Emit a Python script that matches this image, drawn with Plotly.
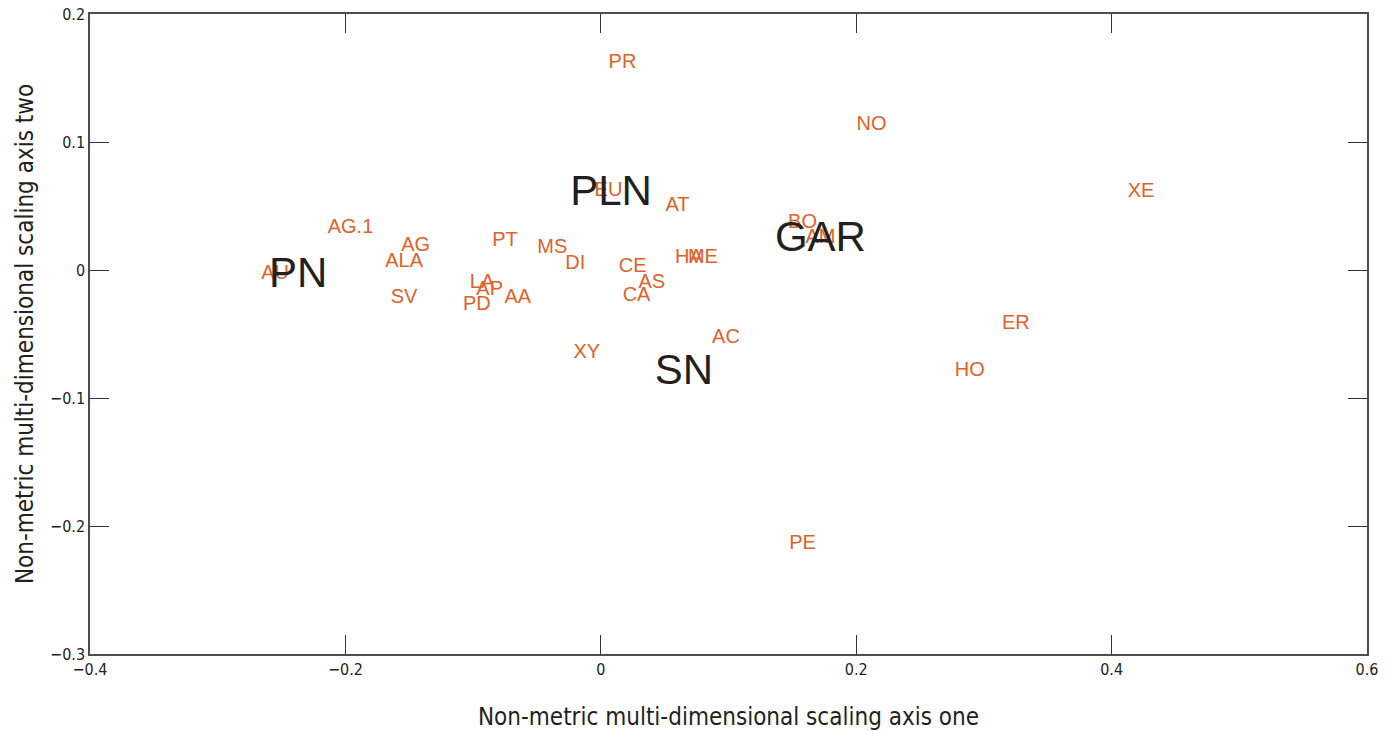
import plotly.graph_objects as go

# NMDS site/species scores
species = ["PR", "NO", "XE", "EU", "AT", "BO", "AM", "AG.1", "AG", "PT", "MS", "DI",
           "ALA", "AU", "CE", "HA", "ME", "AS", "CA", "LA", "AP", "PD", "AA", "SV",
           "XY", "AC", "ER", "HO", "PE"]
species_x = [0.017, 0.212, 0.423, 0.006, 0.060, 0.158, 0.172, -0.196, -0.145, -0.075,
             -0.038, -0.020, -0.154, -0.255, 0.025, 0.069, 0.080, 0.040, 0.028, -0.093,
             -0.087, -0.097, -0.065, -0.154, -0.011, 0.098, 0.325, 0.289, 0.158]
species_y = [0.162, 0.113, 0.061, 0.062, 0.050, 0.037, 0.025, 0.033, 0.019, 0.023,
             0.017, 0.005, 0.006, -0.003, 0.002, 0.009, 0.009, -0.010, -0.020, -0.010,
             -0.016, -0.027, -0.022, -0.022, -0.065, -0.053, -0.042, -0.079, -0.214]

groups = ["PN", "PLN", "GAR", "SN"]
group_x = [-0.237, 0.008, 0.172, 0.065]
group_y = [-0.005, 0.059, 0.023, -0.081]

x_ticks = [-0.4, -0.2, 0, 0.2, 0.4, 0.6]
y_ticks = [-0.3, -0.2, -0.1, 0, 0.1, 0.2]

ORANGE = "#DE6229"
DARK = "#231F20"
COND = "Liberation Sans Narrow, DejaVu Sans Condensed, Arial Narrow, sans-serif"

fig = go.Figure()
fig.add_trace(go.Scatter(
    x=species_x, y=species_y, text=species, mode="text",
    textposition="middle center", cliponaxis=False,
    textfont=dict(family="Liberation Sans, Arial, sans-serif", size=20, color=ORANGE),
    showlegend=False, hoverinfo="skip"))
fig.add_trace(go.Scatter(
    x=group_x, y=group_y, text=groups, mode="text",
    textposition="middle center", cliponaxis=False,
    textfont=dict(family="Liberation Sans, Arial, sans-serif", size=42, color=DARK),
    showlegend=False, hoverinfo="skip"))

axis_common = dict(
    showline=True, linecolor="#4D4D4D", linewidth=1.5, mirror="ticks",
    ticks="inside", ticklen=19, tickwidth=1.2, tickcolor="#333333",
    showgrid=False, zeroline=False, automargin=False,
    tickfont=dict(family=COND, size=16, color=DARK),
)

fig.update_xaxes(range=[-0.4, 0.6], tickvals=x_ticks,
                 ticktext=[f"{v:g}".replace("-", "\u2212") for v in x_ticks],
                 title=dict(text="Non-metric multi-dimensional scaling axis one",
                            font=dict(family=COND, size=24, color=DARK), standoff=34),
                 **axis_common)
fig.update_yaxes(range=[-0.3, 0.2], tickvals=y_ticks,
                 ticktext=[f"{v:g}".replace("-", "\u2212") for v in y_ticks],
                 title=dict(text="Non-metric multi-dimensional scaling axis two",
                            font=dict(family=COND, size=24, color=DARK), standoff=10),
                 **axis_common)

fig.update_layout(
    width=1388, height=731,
    margin=dict(l=90, r=21, t=14, b=77),
    paper_bgcolor="white", plot_bgcolor="white",
)

fig.write_html("out.html")
